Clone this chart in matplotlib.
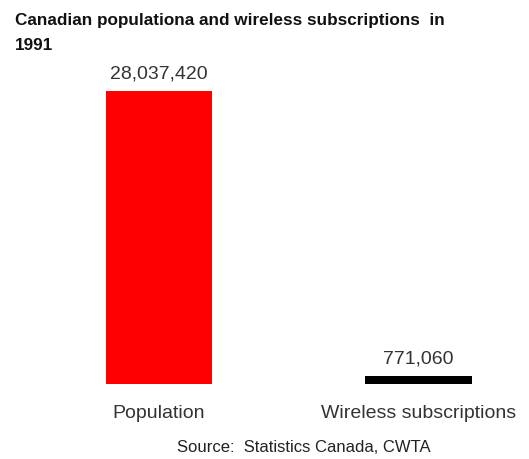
import matplotlib.pyplot as plt

plt.rcParams['font.family'] = ['Liberation Sans', 'DejaVu Sans']

# 데이터
categories = ['Population', 'Wireless subscriptions']
values = [28037420, 771060]
bar_colors = ['#ff0000', '#000000']

fig = plt.figure(figsize=(5.29, 4.59), dpi=100)
fig.patch.set_facecolor('white')

# 막대 영역: 아래 y=384px, 위 y=60px
bottom = (459 - 384) / 459
top = (459 - 60) / 459
ax = fig.add_axes([0, bottom, 1, top - bottom])

x = list(range(len(categories)))
ax.bar(x, values, width=0.41, color=bar_colors)

ymax = values[0] * (384 - 60) / (384 - 91)
ax.set_ylim(0, ymax)
ax.set_xlim(-159 / 259.5, (529 - 159) / 259.5)

for xi, v in zip(x, values):
    ax.text(xi, v + ymax * 0.025, f'{v:,}', ha='center', va='bottom',
            fontsize=14, color='#333333')

ax.axis('off')

for xi, c in zip(x, categories):
    fig.text((159 + xi * 259.5) / 529, 1 - 413 / 459, c, ha='center', va='center',
             fontsize=14, color='#333333')

fig.text(15 / 529, 1 - 20 / 459, 'Canadian populationa and wireless subscriptions  in',
         ha='left', va='center', fontsize=12.3, fontweight='bold', color='#111111')
fig.text(15 / 529, 1 - 45 / 459, '1991',
         ha='left', va='center', fontsize=12.3, fontweight='bold', color='#111111')

fig.text(304 / 529, 1 - 448 / 459, 'Source:  Statistics Canada, CWTA',
         ha='center', va='center', fontsize=12, color='#222222')

plt.savefig('out.png', dpi=100)
